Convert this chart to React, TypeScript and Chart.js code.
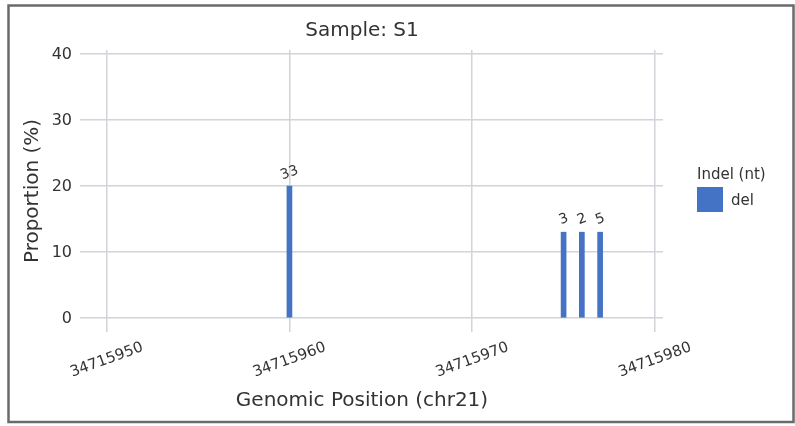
import React, { useEffect, useRef } from "react";
import { Chart, registerables } from "chart.js";

Chart.register(...registerables);

const positions = [34715960, 34715975, 34715976, 34715977];
const proportions = [20, 13, 13, 13];
const barLabels = ["33", "3", "2", "5"];
const xTicks = [34715950, 34715960, 34715970, 34715980];
const yTicks = [0, 10, 20, 30, 40];
const seriesName = "del";
const legendTitle = "Indel (nt)";
const chartTitle = "Sample: S1";
const xTitle = "Genomic Position (chr21)";
const yTitle = "Proportion (%)";

const FONT = "'DejaVu Sans', sans-serif";
const TEXT = "#333333";
const BAR = "#4472C4";

const textPlugin = {
  id: "customText",
  afterDraw(chart: any) {
    const ctx = chart.ctx as CanvasRenderingContext2D;
    const xs = chart.scales.x;
    const ys = chart.scales.y;
    ctx.save();
    // frame
    ctx.strokeStyle = "#6a6a6a";
    ctx.lineWidth = 2.5;
    ctx.strokeRect(8.5, 5.5, 785, 416.5);

    ctx.fillStyle = TEXT;
    // title
    ctx.font = `20px ${FONT}`;
    ctx.textAlign = "center";
    ctx.textBaseline = "alphabetic";
    ctx.fillText(chartTitle, 362, 36);
    // x title
    ctx.fillText(xTitle, 362, 406);
    // y title
    ctx.save();
    ctx.translate(33, 191);
    ctx.rotate(-Math.PI / 2);
    ctx.textBaseline = "middle";
    ctx.fillText(yTitle, 0, 0);
    ctx.restore();

    // y tick labels
    ctx.font = `16px ${FONT}`;
    ctx.textAlign = "right";
    ctx.textBaseline = "middle";
    yTicks.forEach((v) => {
      ctx.fillText(String(v), 72, ys.getPixelForValue(v) + 1);
    });

    // x tick labels rotated
    ctx.font = `15px ${FONT}`;
    ctx.textAlign = "center";
    xTicks.forEach((v) => {
      ctx.save();
      ctx.translate(xs.getPixelForValue(v), 360);
      ctx.rotate((-20 * Math.PI) / 180);
      ctx.fillText(String(v), 0, 0);
      ctx.restore();
    });

    // bar labels
    const meta = chart.getDatasetMeta(0);
    ctx.font = `14px ${FONT}`;
    meta.data.forEach((el: any, i: number) => {
      ctx.save();
      ctx.translate(el.x, el.y - 13);
      ctx.rotate((-20 * Math.PI) / 180);
      ctx.textAlign = "center";
      ctx.textBaseline = "middle";
      ctx.fillText(barLabels[i], 0, 0);
      ctx.restore();
    });

    // legend
    ctx.font = `15px ${FONT}`;
    ctx.textAlign = "left";
    ctx.textBaseline = "alphabetic";
    ctx.fillText(legendTitle, 697, 179);
    ctx.fillStyle = BAR;
    ctx.fillRect(697, 187, 26, 25);
    ctx.fillStyle = TEXT;
    ctx.fillText(seriesName, 731, 205);
    ctx.restore();
  },
};

export default function App() {
  const ref = useRef<HTMLCanvasElement | null>(null);
  useEffect(() => {
    if (!ref.current) return;
    const chart = new Chart(ref.current, {
      type: "bar",
      data: {
        datasets: [
          {
            label: seriesName,
            data: positions.map((p, i) => ({ x: p, y: proportions[i] })),
            backgroundColor: BAR,
            borderWidth: 0,
            barThickness: 5,
          },
        ],
      },
      options: {
        animation: false,
        responsive: false,
        devicePixelRatio: 1,
        layout: { padding: { left: 80, right: 132, top: 50, bottom: 94 } },
        plugins: {
          legend: { display: false },
          title: { display: false },
          tooltip: { enabled: false },
        },
        scales: {
          x: {
            type: "linear",
            min: 34715948.54,
            max: 34715980.44,
            offset: false,
            afterBuildTicks: (s: any) => {
              s.ticks = xTicks.map((v) => ({ value: v }));
            },
            ticks: { display: false },
            grid: { color: "#d3d3da", lineWidth: 1.5, drawTicks: false, offset: false },
            border: { display: false },
          },
          y: {
            min: -2.12,
            max: 40.6,
            afterBuildTicks: (s: any) => {
              s.ticks = yTicks.map((v) => ({ value: v }));
            },
            ticks: { display: false },
            grid: { color: "#d3d3da", lineWidth: 1.5, drawTicks: false, offset: false },
            border: { display: false },
          },
        },
      },
      plugins: [textPlugin],
    } as any);
    return () => chart.destroy();
  }, []);
  return (
    <div style={{ position: "fixed", left: 0, top: 0, width: 795, height: 426, background: "#fff" }}>
      <canvas ref={ref} width={795} height={426} style={{ width: 795, height: 426, display: "block" }} />
    </div>
  );
}
